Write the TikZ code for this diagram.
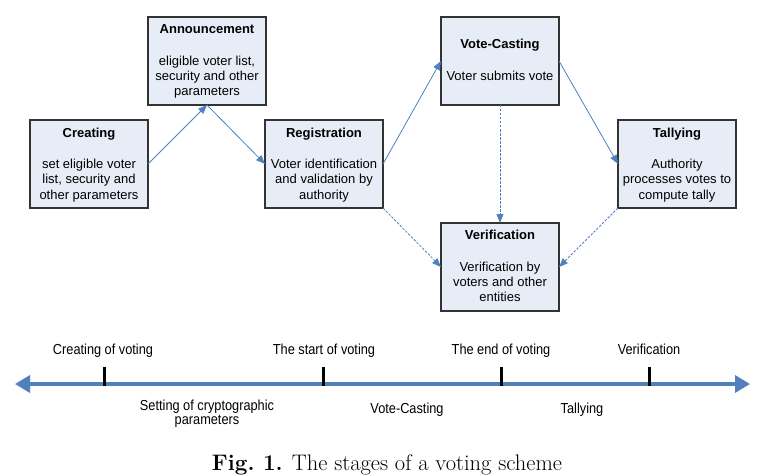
\documentclass[tikz,border=0pt]{standalone}
\usepackage{fontspec}
\newfontfamily\arial{Liberation Sans}
\newfontfamily\arialn[FakeStretch=0.88]{Liberation Sans}
\usetikzlibrary{arrows.meta}
\definecolor{boxfill}{HTML}{E7EDF7}
\definecolor{boxline}{HTML}{333333}
\definecolor{flow}{HTML}{4F81BD}
\tikzset{
  box/.style={draw=boxline, fill=boxfill, line width=1.3pt, inner sep=0pt, outer sep=0pt,
    minimum width=118pt, minimum height=88pt, anchor=north west},
  ttl/.style={anchor=base, inner sep=0pt, font=\arial\fontsize{13}{15}\selectfont\bfseries},
  bdy/.style={anchor=base, inner sep=0pt, font=\arial\fontsize{13}{15}\selectfont},
  flowarrow/.style={draw=flow, line width=0.8pt, -{Triangle[length=9pt,width=7pt]}},
  dasharrow/.style={flowarrow, dashed, dash pattern=on 2.5pt off 1.5pt},
  tlabel/.style={anchor=base, inner sep=0pt, align=center, font=\arialn\fontsize{14.5}{14.5}\selectfont},
  timeline/.style={draw=flow, line width=3.5pt, {Triangle[length=15pt,width=17pt]}-{Triangle[length=15pt,width=17pt]}},
  tick/.style={draw=black, line width=3pt}
}
\begin{document}
\begin{tikzpicture}[x=1pt,y=-1pt]
\useasboundingbox (0,0) rectangle (757,476);
% boxes
\node[box] (cre) at (30,120) {};
\node[box] (ann) at (148,17) {};
\node[box] (reg) at (265,120) {};
\node[box] (vc) at (441,17) {};
\node[box] (tal) at (618,120) {};
\node[box] (ver) at (441,223) {};
% texts
\node[ttl] (creT) at (89,137) {Creating};
\node[bdy] (creB1) at (89,168) {set eligible voter};
\node[bdy] (creB2) at (89,183.5) {list, security and};
\node[bdy] (creB3) at (89,199) {other parameters};
\node[ttl] (annT) at (207,34) {Announcement};
\node[bdy] (annB1) at (207,66) {eligible voter list,};
\node[bdy] (annB2) at (207,81) {security and other};
\node[bdy] (annB3) at (207,96) {parameters};
\node[ttl] (regT) at (324,137) {Registration};
\node[bdy] (regB1) at (324,168) {Voter identification};
\node[bdy] (regB2) at (324,183.5) {and validation by};
\node[bdy] (regB3) at (324,199) {authority};
\node[ttl] (vcT) at (500,49) {Vote-Casting};
\node[bdy] (vcB1) at (500,81) {Voter submits vote};
\node[ttl] (talT) at (677,137) {Tallying};
\node[bdy] (talB1) at (677,168) {Authority};
\node[bdy] (talB2) at (677,183.5) {processes votes to};
\node[bdy] (talB3) at (677,199) {compute tally};
\node[ttl] (verT) at (500,239) {Verification};
\node[bdy] (verB1) at (500,271) {Verification by};
\node[bdy] (verB2) at (500,286) {voters and other};
\node[bdy] (verB3) at (500,301) {entities};
% arrows
\draw[flowarrow] (cre.east) -- (ann.south);
\draw[flowarrow] (ann.south) -- (reg.west);
\draw[flowarrow] (reg.east) -- (vc.west);
\draw[flowarrow] (vc.east) -- (tal.west);
\draw[dasharrow] (vc.south) -- (ver.north);
\draw[dasharrow] (reg.south east) -- (ver.west);
\draw[dasharrow] (tal.south west) -- (ver.east);
% timeline
\coordinate (tl) at (15,384);
\coordinate (tr) at (750,384);
\draw[timeline] (tl) -- (tr);
\draw[tick] (104,367) -- (104,386);
\draw[tick] (323,367) -- (323,386);
\draw[tick] (501,367) -- (501,386);
\draw[tick] (649,367) -- (649,386);
\node[tlabel] (l1) at (103,354) {Creating of voting};
\node[tlabel] (l2) at (324,354) {The start of voting};
\node[tlabel] (l3) at (501,354) {The end of voting};
\node[tlabel] (l4) at (649,354) {Verification};
\node[tlabel] (b1a) at (207,410) {Setting of cryptographic};
\node[tlabel] (b1b) at (207,424) {parameters};
\node[tlabel] (b2) at (407,413) {Vote-Casting};
\node[tlabel] (b3) at (582,413) {Tallying};
% caption
\node[anchor=base, inner sep=0pt, font=\fontsize{22.5}{26}\selectfont] (cap) at (387,470.5) {\textbf{Fig.~1.} The stages of a voting scheme};
\end{tikzpicture}
\end{document}
